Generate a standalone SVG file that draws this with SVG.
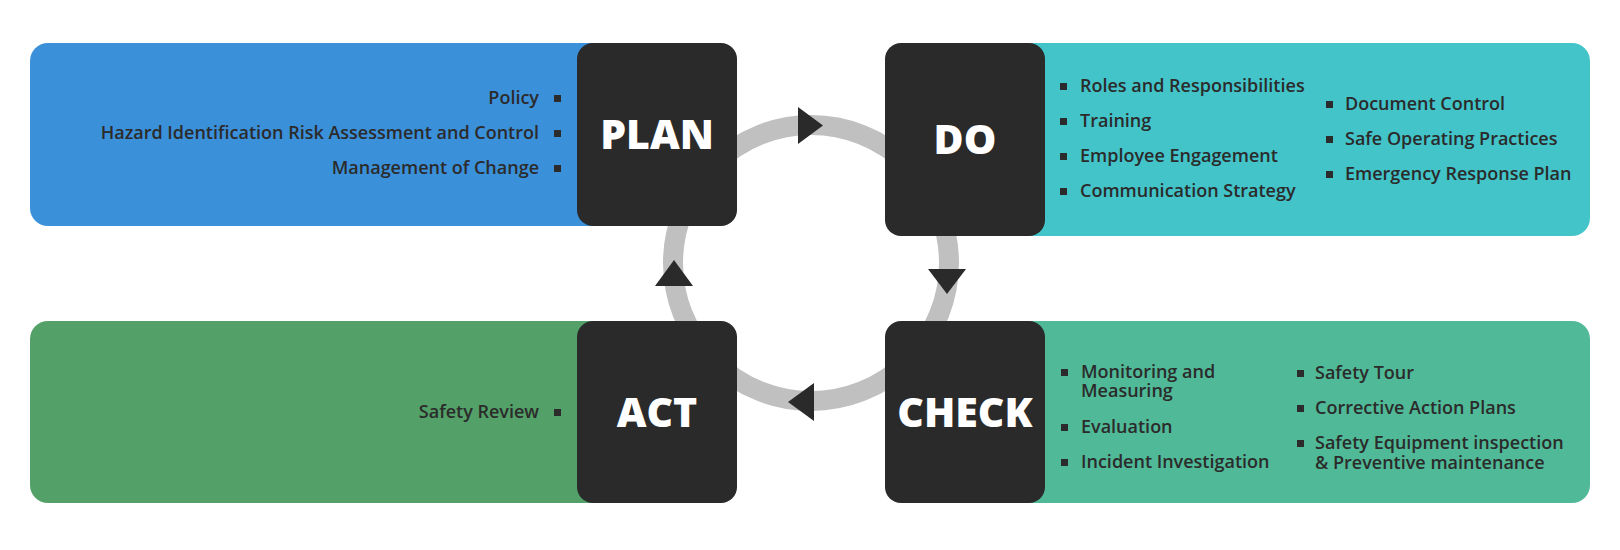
<svg xmlns="http://www.w3.org/2000/svg" width="1620" height="550" viewBox="0 0 1620 550">
<style>
.item{font-family:"Open Sans","Liberation Sans",sans-serif;font-weight:600;font-size:18px;fill:#2b2b2b}
.end{text-anchor:end}
.title{font-family:"Open Sans","Liberation Sans",sans-serif;font-weight:800;font-size:41px;fill:#ffffff;text-anchor:middle}
.dark{fill:#2a2a2a}
.bul{fill:#2b2b2b}
.arrow{fill:#2a2a2a}
</style>
<rect width="1620" height="550" fill="#ffffff"/>
<g id="connectors">
  <circle cx="811" cy="263" r="138" fill="none" stroke="#c0c0c0" stroke-width="20"/>
  <polygon class="arrow" points="798,107 823,125.5 798,144"/>
  <polygon class="arrow" points="928,269 966,269 947,294"/>
  <polygon class="arrow" points="814,383 788,402 814,421"/>
  <polygon class="arrow" points="655,286 693,286 674,260"/>
</g>
<g id="plan">
  <rect x="30" y="43" width="680" height="183" rx="18" fill="#3b90da"/>
  <rect class="dark" x="577" y="43" width="160" height="183" rx="16"/>
  <text class="title" x="657" y="149">PLAN</text>
  <text class="item end" x="539" y="104">Policy</text>
  <text class="item end" x="539" y="139">Hazard Identification Risk Assessment and Control</text>
  <text class="item end" x="539" y="174">Management of Change</text>
  <rect class="bul" x="554" y="95" width="7" height="7"/>
  <rect class="bul" x="554" y="130" width="7" height="7"/>
  <rect class="bul" x="554" y="165" width="7" height="7"/>
</g>
<g id="do">
  <rect x="910" y="43" width="680" height="193" rx="18" fill="#42c4c9"/>
  <rect class="dark" x="885" y="43" width="160" height="193" rx="16"/>
  <text class="title" x="965" y="154">DO</text>
  <rect class="bul" x="1060" y="83" width="7" height="7"/>
  <rect class="bul" x="1060" y="118" width="7" height="7"/>
  <rect class="bul" x="1060" y="153" width="7" height="7"/>
  <rect class="bul" x="1060" y="188" width="7" height="7"/>
  <text class="item" x="1080" y="92">Roles and Responsibilities</text>
  <text class="item" x="1080" y="127">Training</text>
  <text class="item" x="1080" y="162">Employee Engagement</text>
  <text class="item" x="1080" y="197">Communication Strategy</text>
  <rect class="bul" x="1326" y="101" width="7" height="7"/>
  <rect class="bul" x="1326" y="136" width="7" height="7"/>
  <rect class="bul" x="1326" y="171" width="7" height="7"/>
  <text class="item" x="1345" y="110">Document Control</text>
  <text class="item" x="1345" y="145">Safe Operating Practices</text>
  <text class="item" x="1345" y="180">Emergency Response Plan</text>
</g>
<g id="act">
  <rect x="30" y="321" width="680" height="182" rx="18" fill="#53a168"/>
  <rect class="dark" x="577" y="321" width="160" height="182" rx="16"/>
  <text class="title" x="657" y="427">ACT</text>
  <text class="item end" x="539" y="418">Safety Review</text>
  <rect class="bul" x="554" y="409" width="7" height="7"/>
</g>
<g id="check">
  <rect x="910" y="321" width="680" height="182" rx="18" fill="#50b997"/>
  <rect class="dark" x="885" y="321" width="160" height="182" rx="16"/>
  <text class="title" x="965" y="427">CHECK</text>
  <rect class="bul" x="1061" y="369" width="7" height="7"/>
  <rect class="bul" x="1061" y="424" width="7" height="7"/>
  <rect class="bul" x="1061" y="459" width="7" height="7"/>
  <text class="item" x="1081" y="377.5">Monitoring and</text>
  <text class="item" x="1081" y="397">Measuring</text>
  <text class="item" x="1081" y="432.5">Evaluation</text>
  <text class="item" x="1081" y="467.5">Incident Investigation</text>
  <rect class="bul" x="1297" y="370" width="7" height="7"/>
  <rect class="bul" x="1297" y="405" width="7" height="7"/>
  <rect class="bul" x="1297" y="440" width="7" height="7"/>
  <text class="item" x="1315" y="379">Safety Tour</text>
  <text class="item" x="1315" y="414">Corrective Action Plans</text>
  <text class="item" x="1315" y="449">Safety Equipment inspection</text>
  <text class="item" x="1315" y="469">&amp; Preventive maintenance</text>
</g>
</svg>
